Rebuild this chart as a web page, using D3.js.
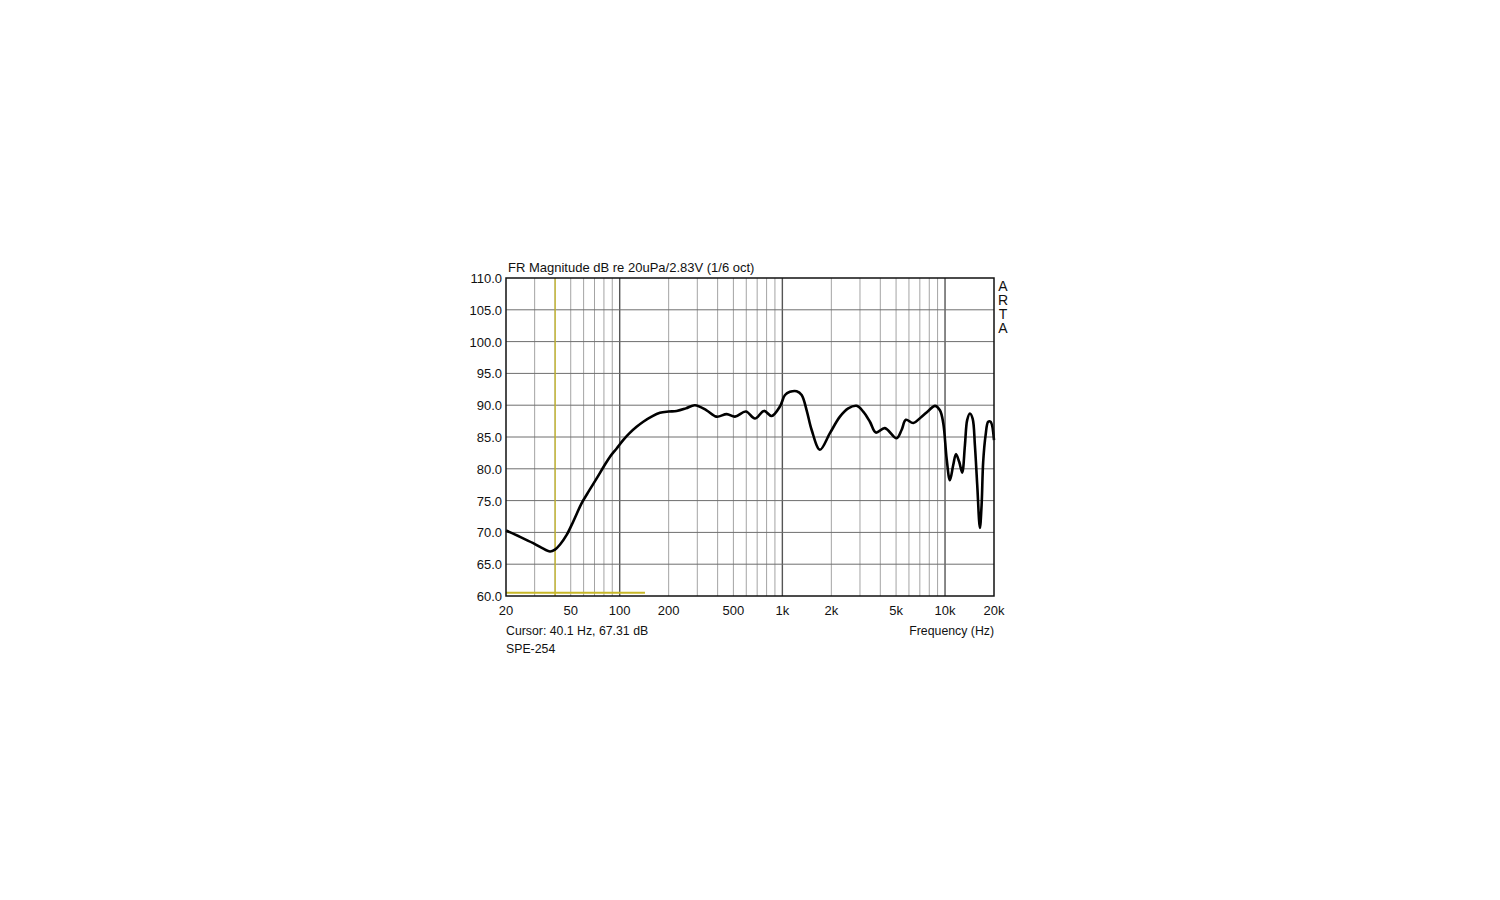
<!DOCTYPE html>
<html>
<head>
<meta charset="utf-8">
<script src="https://cdn.jsdelivr.net/npm/d3@7"></script>
<style>
  body { margin: 0; background: #fff; }
  svg text { font-family: "Liberation Sans", Arial, sans-serif; fill: #111; }
</style>
</head>
<body>
<svg id="chart" width="1500" height="900"></svg>
<script>
// frequency response (Hz / dB)
let freqs = [20, 24.4, 29.4, 33, 37.3, 40, 43, 47.2, 52, 58.4, 65, 72.2, 80, 87.2, 95.8,
    105, 115, 127, 139.6, 157, 176.8, 200, 224, 255, 290, 342, 394, 455, 511, 597, 678,
    771, 859, 966, 1038, 1113, 1224, 1314, 1410, 1514, 1702, 1960, 2259, 2541, 2861,
    3141, 3453, 3758, 4267, 5035, 5405, 5746, 6375, 7178, 7883, 8670, 9300, 9750,
    10230, 10710, 11230, 11670, 12220, 12750, 13250, 13690, 14220, 14780, 15260,
    15770, 16380, 16780, 17160, 17760, 18420, 19060, 20000];
let levels = [70.3, 69.3, 68.3, 67.6, 67.0, 67.3, 68.1, 69.6, 71.8, 74.6, 76.6, 78.5, 80.4, 81.9, 83.2,
    84.5, 85.6, 86.6, 87.4, 88.2, 88.8, 89.0, 89.1, 89.5, 90.0, 89.2, 88.2, 88.6, 88.2, 89.0, 87.9,
    89.1, 88.3, 89.8, 91.6, 92.1, 92.2, 91.6, 89.2, 86.1, 83.0, 85.6, 88.2, 89.5, 89.9,
    89.0, 87.4, 85.7, 86.4, 84.8, 86.1, 87.7, 87.2, 88.2, 89.1, 89.9, 89.2, 87.2,
    81.6, 78.2, 80.6, 82.3, 81.1, 79.4, 83.7, 87.7, 88.7, 87.9, 83.7,
    77.5, 70.7, 74.3, 81.1, 85.3, 87.4, 87.4, 84.5];

let x_ticks = [20, 50, 100, 200, 500, 1000, 2000, 5000, 10000, 20000];
let x_tick_labels = ["20", "50", "100", "200", "500", "1k", "2k", "5k", "10k", "20k"];
let y_ticks = [60, 65, 70, 75, 80, 85, 90, 95, 100, 105, 110];
let decades = [100, 1000, 10000];

let cursor_freq = 40.1;
let cursor_level = 67.31;
let cursor_bar = [20, 143, 60.5]; // from, to, level of the yellow bar at the bottom

let title = "FR Magnitude dB re 20uPa/2.83V (1/6 oct)";
let cursor_text = "Cursor: 40.1 Hz, 67.31 dB";
let name_text = "SPE-254";
let x_title = "Frequency (Hz)";
let brand = ["A", "R", "T", "A"];

function DrawChart() {
    var svg = d3.select("#chart");
    var left = 506, right = 994, top = 278, bottom = 596;

    var x = d3.scaleLog().domain([20, 20000]).range([left, right]);
    var y = d3.scaleLinear().domain([60, 110]).range([bottom, top]);

    // minor vertical grid: 2..9 of each decade
    var minor = [];
    [10, 100, 1000, 10000].forEach(function (d) {
        for (let k = 1; k <= 9; k++) {
            let f = d * k;
            if (f > 20 && f < 20000) minor.push(f);
        }
    });

    svg.append("g").selectAll("line")
        .data(minor)
        .enter()
        .append("line")
        .attr("x1", function (d) { return x(d); })
        .attr("x2", function (d) { return x(d); })
        .attr("y1", top)
        .attr("y2", bottom)
        .style("stroke", function (d) { return decades.indexOf(d) >= 0 ? "#555" : "#a4a4a4"; })
        .style("stroke-width", function (d) { return decades.indexOf(d) >= 0 ? 1.4 : 1; });

    svg.append("g").selectAll("line")
        .data(y_ticks.slice(1, -1))
        .enter()
        .append("line")
        .attr("x1", left)
        .attr("x2", right)
        .attr("y1", function (d) { return y(d); })
        .attr("y2", function (d) { return y(d); })
        .style("stroke", "#6e6e6e")
        .style("stroke-width", 1);

    // cursor
    svg.append("line")
        .attr("x1", x(cursor_freq)).attr("x2", x(cursor_freq))
        .attr("y1", top).attr("y2", bottom)
        .style("stroke", "#c8b828")
        .style("stroke-width", 1.3);
    svg.append("line")
        .attr("x1", x(cursor_bar[0])).attr("x2", x(cursor_bar[1]))
        .attr("y1", y(cursor_bar[2])).attr("y2", y(cursor_bar[2]))
        .style("stroke", "#c8b828")
        .style("stroke-width", 2);

    // response curve
    var pts = freqs.map(function (f, i) { return [f, levels[i]]; });
    var line = d3.line()
        .x(function (d) { return x(d[0]); })
        .y(function (d) { return y(d[1]); })
        .curve(d3.curveCatmullRom.alpha(0.5));

    svg.append("path")
        .datum(pts)
        .attr("d", line)
        .style("fill", "none")
        .style("stroke", "#000")
        .style("stroke-width", 2.6)
        .style("stroke-linejoin", "round");

    // frame
    svg.append("rect")
        .attr("x", left).attr("y", top)
        .attr("width", right - left).attr("height", bottom - top)
        .style("fill", "none")
        .style("stroke", "#111")
        .style("stroke-width", 1.5);

    // y labels
    svg.append("g").selectAll("text")
        .data(y_ticks)
        .enter()
        .append("text")
        .attr("x", left - 4)
        .attr("y", function (d) { return y(d) + 5; })
        .style("text-anchor", "end")
        .style("font-size", "13px")
        .text(function (d) { return d.toFixed(1); });

    // x labels
    svg.append("g").selectAll("text")
        .data(x_ticks)
        .enter()
        .append("text")
        .attr("x", function (d) { return x(d); })
        .attr("y", bottom + 19)
        .style("text-anchor", "middle")
        .style("font-size", "13px")
        .text(function (d, i) { return x_tick_labels[i]; });

    svg.append("text")
        .attr("x", left + 2).attr("y", top - 6)
        .style("font-size", "13px")
        .text(title);

    svg.append("text")
        .attr("x", left).attr("y", bottom + 39)
        .style("font-size", "12.3px")
        .text(cursor_text);

    svg.append("text")
        .attr("x", left).attr("y", bottom + 57)
        .style("font-size", "12.3px")
        .text(name_text);

    svg.append("text")
        .attr("x", right).attr("y", bottom + 39)
        .style("text-anchor", "end")
        .style("font-size", "12.3px")
        .text(x_title);

    svg.append("g").selectAll("text")
        .data(brand)
        .enter()
        .append("text")
        .attr("x", right + 9)
        .attr("y", function (d, i) { return top + 13 + i * 14; })
        .style("text-anchor", "middle")
        .style("font-size", "14px")
        .text(function (d) { return d; });
}

DrawChart();
</script>
</body>
</html>
